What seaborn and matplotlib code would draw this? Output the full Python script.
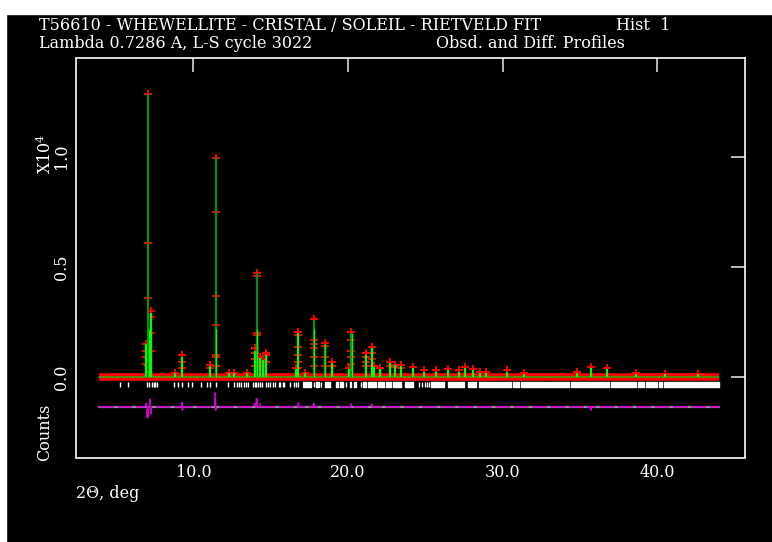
import matplotlib
matplotlib.use("Agg")
import matplotlib.pyplot as plt
from matplotlib.patches import Rectangle
import seaborn as sns
import pandas as pd

# --- data (2-theta in deg, counts in units of 1e4) ---
peak_pos = [6.94, 7.07, 7.24, 8.80, 9.28, 11.06, 11.43, 12.29, 12.60, 13.47,
            13.97, 14.08, 14.33, 14.50, 14.72, 16.60, 16.79, 17.20, 17.77, 18.48,
            18.96, 20.05, 20.20, 21.17, 21.52, 21.70, 22.07, 22.72, 23.00, 23.43,
            24.18, 24.90, 25.70, 26.44, 27.20, 27.58, 28.05, 28.50, 28.90, 30.30,
            31.40, 34.83, 35.70, 36.76, 38.60, 40.50, 42.60]
peak_calc = [0.15, 1.29, 0.29, 0.02, 0.09, 0.05, 1.00, 0.02, 0.02, 0.02,
             0.12, 0.47, 0.085, 0.075, 0.10, 0.035, 0.20, 0.02, 0.26, 0.15,
             0.065, 0.035, 0.20, 0.10, 0.13, 0.045, 0.035, 0.065, 0.055, 0.05,
             0.04, 0.025, 0.025, 0.03, 0.025, 0.04, 0.03, 0.02, 0.02, 0.025,
             0.015, 0.02, 0.04, 0.035, 0.015, 0.012, 0.012]

obs_x = [6.94, 6.94, 6.94, 6.94, 7.07, 7.07, 7.07, 7.07, 7.24, 7.24, 7.24, 7.24,
         8.80, 9.28, 9.28, 9.28, 11.06, 11.06,
         11.43, 11.43, 11.43, 11.43, 11.43, 11.43, 11.43, 12.29, 12.60, 13.47,
         13.97, 13.97, 13.97, 13.97, 14.08, 14.08, 14.08, 14.08, 14.33, 14.33,
         14.50, 14.50, 14.72, 14.72, 14.72, 16.60,
         16.79, 16.79, 16.79, 16.79, 16.79, 16.79, 17.20,
         17.77, 17.77, 17.77, 17.77, 17.77, 17.77, 18.48, 18.48, 18.48, 18.48,
         18.96, 18.96, 20.05, 20.20, 20.20, 20.20, 20.20, 20.20,
         21.17, 21.17, 21.17, 21.17, 21.52, 21.52, 21.52, 21.52, 21.70, 22.07,
         22.72, 22.72, 23.00, 23.00, 23.43, 23.43, 24.18, 24.90, 25.70, 26.44,
         27.20, 27.58, 28.05, 28.50, 28.90, 30.30, 31.40, 34.83, 35.70, 36.76,
         38.60, 40.50, 42.60]
obs_y = [0.15, 0.12, 0.09, 0.06, 1.285, 0.61, 0.36, 0.05, 0.30, 0.27, 0.20, 0.12,
         0.02, 0.10, 0.07, 0.04, 0.055, 0.04,
         0.995, 0.75, 0.368, 0.236, 0.10, 0.09, 0.05, 0.02, 0.02, 0.02,
         0.13, 0.11, 0.08, 0.05, 0.474, 0.46, 0.20, 0.19, 0.09, 0.07,
         0.08, 0.05, 0.11, 0.10, 0.07, 0.04,
         0.206, 0.19, 0.138, 0.10, 0.07, 0.04, 0.02,
         0.262, 0.17, 0.15, 0.13, 0.09, 0.05, 0.153, 0.14, 0.09, 0.05,
         0.07, 0.05, 0.04, 0.203, 0.17, 0.12, 0.09, 0.06,
         0.11, 0.09, 0.07, 0.05, 0.138, 0.11, 0.08, 0.05, 0.05, 0.04,
         0.07, 0.05, 0.055, 0.045, 0.055, 0.04, 0.045, 0.03, 0.03, 0.035,
         0.03, 0.045, 0.035, 0.025, 0.025, 0.03, 0.02, 0.025, 0.045, 0.04,
         0.02, 0.015, 0.015]

scan_x = [3.9, 44.0]
scan_y = [0.0, 0.0]

# reflection markers: single ticks below ~17 deg, merged runs above
refl_pos = [5.26, 5.75, 7.02, 7.12, 7.32, 7.42, 7.52, 7.62, 8.74, 9.02, 9.24,
            9.67, 9.88, 10.49, 10.86, 11.06, 11.45, 12.25, 12.64, 12.80, 12.97,
            13.10, 13.25, 13.40, 13.55, 13.86, 13.95, 14.05, 14.15, 14.29, 14.42,
            14.72, 14.85, 14.94, 15.11, 15.26, 15.50, 15.58, 15.80, 15.88, 16.27,
            16.48, 16.60, 16.74, 17.77, 18.27, 19.88, 20.81, 24.55, 24.80, 24.95,
            25.10, 25.22]
refl_run_start = [17.05, 17.95, 18.48, 19.19, 19.45, 20.10, 20.36, 20.96, 21.28,
                  21.92, 22.46, 22.89, 23.65, 25.37, 26.44, 27.73, 28.48, 29.52,
                  30.10, 30.63, 31.17, 32.89, 34.40, 36.98, 38.77, 39.24, 40.10,
                  40.42]
refl_run_end = [17.63, 18.12, 18.81, 19.34, 19.66, 20.21, 20.53, 21.17, 21.82,
                22.35, 22.79, 23.43, 24.18, 26.23, 27.52, 28.27, 29.45, 30.03,
                30.53, 31.06, 32.79, 34.29, 36.87, 38.59, 39.13, 39.99, 40.31,
                43.97]

diff_x = [3.9, 6.90, 6.94, 6.98, 7.02, 7.05, 7.08, 7.11, 7.17, 7.19, 7.22, 7.25,
          7.27, 7.30, 9.22, 9.25, 9.28, 9.31, 11.38, 11.41, 11.43, 11.46, 11.49,
          13.92, 13.97, 14.02, 14.06, 14.08, 14.11, 14.30, 14.33, 14.36, 16.76,
          16.79, 16.82, 17.74, 17.77, 17.80, 20.17, 20.20, 20.23, 21.49, 21.52,
          21.55, 35.67, 35.70, 35.73, 44.0]
diff_y = [-0.135, -0.135, -0.120, -0.135, -0.185, -0.135, -0.178, -0.135, -0.135,
          -0.100, -0.135, -0.165, -0.135, -0.135, -0.135, -0.115, -0.150, -0.135,
          -0.135, -0.073, -0.150, -0.135, -0.135, -0.135, -0.120, -0.135, -0.135,
          -0.088, -0.135, -0.135, -0.118, -0.135, -0.135, -0.118, -0.135, -0.135,
          -0.120, -0.135, -0.135, -0.122, -0.135, -0.135, -0.123, -0.135, -0.135,
          -0.150, -0.135, -0.135]

xticks = [10.0, 20.0, 30.0, 40.0]
yticks = [0.0, 0.5, 1.0]

sns.set_theme(style="dark")
plt.rcParams["font.family"] = ["DejaVu Serif", "DejaVu Sans"]
plt.rcParams["mathtext.fontset"] = "dejavuserif"

W, H = 772, 542
fig = plt.figure(figsize=(W / 100, H / 100), dpi=100, facecolor="black")
# white strips left and top of the screen grab
fig.patches.append(Rectangle((0, 0), 6 / W, 1, transform=fig.transFigure,
                             color="white", zorder=-5))
fig.patches.append(Rectangle((0, 1 - 14 / H), 1, 14 / H, transform=fig.transFigure,
                             color="white", zorder=-5))

ax = fig.add_axes([76 / W, 1 - 457.5 / H, (745 - 76) / W, (457.5 - 58) / H])
ax.set_facecolor("black")

# observed scan (red band) + calc baseline
ax.plot(scan_x, scan_y, color="#ff0000", lw=5.5, solid_capstyle="butt", zorder=2)
obs = pd.DataFrame({"x": obs_x, "y": obs_y})
sns.scatterplot(data=obs, x="x", y="y", marker="+", color="#ff0000", s=40,
                linewidth=1.4, ax=ax, zorder=3)
ax.plot(scan_x, scan_y, color="#3aa000", lw=1.2, zorder=4)

sharp = {1, 6, 11, 18, 19, 22}
for i, (p, h) in enumerate(zip(peak_pos, peak_calc)):
    col = "#0a8f0a" if i in sharp else "#00ff00"
    ax.vlines(p, 0, h, color=col, lw=1.6, zorder=4)
    if i in sharp:
        ax.vlines(p + 0.04, 0, min(h, 0.22), color="#00ff00", lw=1.0, zorder=4)

# reflection positions
ax.vlines(refl_pos, -0.047, -0.021, color="white", lw=1.0, zorder=3)
runs = [(s, e - s) for s, e in zip(refl_run_start, refl_run_end)]
ax.broken_barh(runs, (-0.047, 0.026), facecolors="white", zorder=3)

# difference curve
ax.plot(scan_x, [-0.135, -0.135], color="#909090", lw=1.6, zorder=2)
diff = pd.DataFrame({"x": diff_x, "y": diff_y})
sns.lineplot(data=diff, x="x", y="y", color="#d000d0", lw=1.2, sort=False,
             estimator=None, ax=ax, zorder=3, dashes=False)
ax.lines[-1].set_dashes((9, 2))

ax.set_xlim(2.405, 45.66)
ax.set_ylim(-0.365, 1.447)
ax.set_xticks(xticks)
ax.set_xticklabels([f"{t:.1f}" for t in xticks])
ax.set_yticks(yticks)
ax.set_yticklabels([f"{t:.1f}" for t in yticks], rotation=90, va="center")
ax.set_xlabel("")
ax.set_ylabel("")
ax.grid(False)
for s in ax.spines.values():
    s.set_color("white")
    s.set_linewidth(1.2)
ax.tick_params(direction="in", length=10, width=1.2, color="#d8d8d8",
               top=True, right=True, labelcolor="white", labelsize=11.5)
ax.tick_params(axis="x", pad=5)
ax.tick_params(axis="y", pad=4)

txt = dict(color="white", fontsize=11.5, va="center")
fig.text(39 / W, 1 - 25 / H, "T56610 - WHEWELLITE - CRISTAL / SOLEIL - RIETVELD FIT", **txt)
fig.text(616 / W, 1 - 25 / H, "Hist  1", **txt)
fig.text(39 / W, 1 - 43 / H, "Lambda 0.7286 A, L-S cycle 3022", **txt)
fig.text(436 / W, 1 - 43 / H, "Obsd. and Diff. Profiles", **txt)
fig.text(76 / W, 1 - 493 / H, "2\u0398, deg", **txt)
fig.text(45 / W, 1 - 154 / H, "X10$^{4}$", rotation=90, ha="center", **txt)
fig.text(45 / W, 1 - 432 / H, "Counts", rotation=90, ha="center", **txt)

fig.savefig("out.png", dpi=100, facecolor=fig.get_facecolor())
